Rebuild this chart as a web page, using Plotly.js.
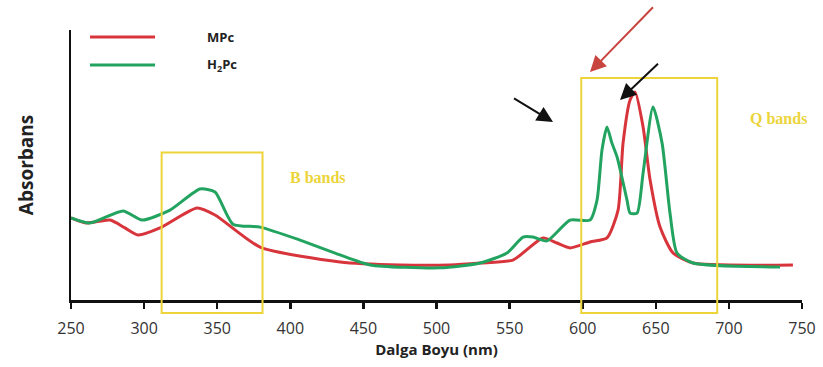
<!DOCTYPE html>
<html>
<head>
<meta charset="utf-8">
<script src="https://cdn.plot.ly/plotly-3.0.1.min.js"></script>
<style>html,body{margin:0;padding:0;background:#fff;}#chart{width:823px;height:367px;}</style>
</head>
<body>
<div id="chart"></div>
<script>
// Wavelength (nm) and absorbance (arbitrary units, 0..1 of plot height)
const mpcWavelength = [250.0,260.3,276.7,286.9,295.8,310.9,336.2,348.5,379.3,434.0,475.0,509.2,529.8,552.3,572.8,582.4,591.3,605.0,616.6,624.2,627.6,632.4,635.8,641.3,646.1,652.9,661.8,675.5,743.8];
const mpcAbsorbance = [0.304,0.285,0.296,0.267,0.241,0.267,0.341,0.315,0.196,0.141,0.130,0.130,0.137,0.148,0.230,0.211,0.193,0.215,0.230,0.333,0.581,0.741,0.770,0.641,0.444,0.270,0.174,0.137,0.130];

const h2pcWavelength = [250.0,263.0,285.6,298.6,317.7,338.2,348.5,360.8,379.3,406.6,434.0,454.5,502.4,529.8,548.2,559.2,566.0,575.6,591.3,605.0,609.8,613.2,616.6,620.0,623.5,630.3,632.4,637.2,641.3,648.1,654.3,659.7,664.5,675.5,735.0];
const h2pcAbsorbance = [0.304,0.285,0.330,0.296,0.333,0.411,0.400,0.281,0.270,0.222,0.167,0.130,0.119,0.137,0.174,0.233,0.233,0.219,0.296,0.296,0.370,0.556,0.641,0.581,0.530,0.370,0.322,0.322,0.470,0.715,0.581,0.322,0.174,0.137,0.122];

const seriesNames = ['MPc', 'H<sub>2</sub>Pc'];
const xTicks = [250,300,350,400,450,500,550,600,650,700,750];
const bBand = [312, 381];
const qBand = [599, 692];
const bandLabels = ['B bands', 'Q bands'];

const RED = '#d8343b';
const GREEN = '#22a460';
const YELLOW = '#ecd43a';

const traces = [
  {x: mpcWavelength, y: mpcAbsorbance, name: seriesNames[0], mode: 'lines',
   line: {color: RED, width: 3, shape: 'spline', smoothing: 0.6}, showlegend: false},
  {x: h2pcWavelength, y: h2pcAbsorbance, name: seriesNames[1], mode: 'lines',
   line: {color: GREEN, width: 3, shape: 'spline', smoothing: 0.6}, showlegend: false}
];

const shapes = [
  {type: 'rect', xref: 'x', yref: 'paper', x0: bBand[0], x1: bBand[1], y0: -0.048, y1: 0.546,
   line: {color: YELLOW, width: 2}, fillcolor: 'rgba(0,0,0,0)'},
  {type: 'rect', xref: 'x', yref: 'paper', x0: qBand[0], x1: qBand[1], y0: -0.048, y1: 0.822,
   line: {color: YELLOW, width: 2}, fillcolor: 'rgba(0,0,0,0)'},
  // legend lines
  {type: 'line', xref: 'paper', yref: 'paper', x0: 0.026, x1: 0.115, y0: 0.974, y1: 0.974,
   line: {color: RED, width: 3}},
  {type: 'line', xref: 'paper', yref: 'paper', x0: 0.026, x1: 0.115, y0: 0.870, y1: 0.870,
   line: {color: GREEN, width: 3}}
];

const annotations = [
  {xref: 'paper', yref: 'paper', x: 0.183, y: 0.974, xanchor: 'left', yanchor: 'middle',
   text: '<b>' + seriesNames[0] + '</b>', showarrow: false, font: {family: 'Open Sans', size: 13, color: '#222'}},
  {xref: 'paper', yref: 'paper', x: 0.183, y: 0.870, xanchor: 'left', yanchor: 'middle',
   text: '<b>' + seriesNames[1] + '</b>', showarrow: false, font: {family: 'Open Sans', size: 13, color: '#222'}},
  {xref: 'x', yref: 'paper', x: 419, y: 0.452, text: '<b>' + bandLabels[0] + '</b>', showarrow: false,
   font: {family: 'Liberation Serif', size: 16, color: YELLOW}},
  {xref: 'x', yref: 'paper', x: 734, y: 0.711, text: '<b>' + bandLabels[1] + '</b>', showarrow: false,
   font: {family: 'Liberation Serif', size: 16, color: YELLOW}},
  // arrows
  {xref: 'x', yref: 'paper', x: 605.0, y: 0.844, ax: 65, ay: -67, text: ' ', showarrow: true,
   arrowhead: 2, arrowsize: 1.6, arrowwidth: 2, arrowcolor: '#c8443f', font: {size: 2}},
  {xref: 'x', yref: 'paper', x: 625.5, y: 0.741, ax: 40, ay: -38, text: ' ', showarrow: true,
   arrowhead: 2, arrowsize: 1.6, arrowwidth: 2, arrowcolor: '#111', font: {size: 2}},
  {xref: 'x', yref: 'paper', x: 579.7, y: 0.659, ax: -41, ay: -25, text: ' ', showarrow: true,
   arrowhead: 2, arrowsize: 1.6, arrowwidth: 2, arrowcolor: '#111', font: {size: 2}}
];

const layout = {
  width: 823, height: 367,
  margin: {l: 71, r: 21, t: 30, b: 67},
  paper_bgcolor: '#fff', plot_bgcolor: '#fff',
  showlegend: false,
  xaxis: {
    range: [250, 750], tickvals: xTicks, ticktext: xTicks.map(String),
    showgrid: false, zeroline: false, showline: true, linecolor: '#111', linewidth: 2.5,
    ticks: 'outside', ticklen: 6, tickwidth: 2.5, tickcolor: '#111',
    ticklabelstandoff: 6,
    tickfont: {family: 'Open Sans', size: 16, color: '#333'},
    title: {text: '<b>Dalga Boyu (nm)</b>', font: {family: 'Open Sans', size: 15, color: '#222'}, standoff: 6}
  },
  yaxis: {
    range: [0, 1], showgrid: false, zeroline: false, showline: true, linecolor: '#111', linewidth: 2.5,
    showticklabels: false, ticks: '',
    title: {text: '<b>Absorbans</b>', font: {family: 'Open Sans', size: 19, color: '#222'}, standoff: 30}
  },
  shapes: shapes,
  annotations: annotations
};

Plotly.newPlot('chart', traces, layout, {displayModeBar: false, staticPlot: true});
</script>
</body>
</html>
